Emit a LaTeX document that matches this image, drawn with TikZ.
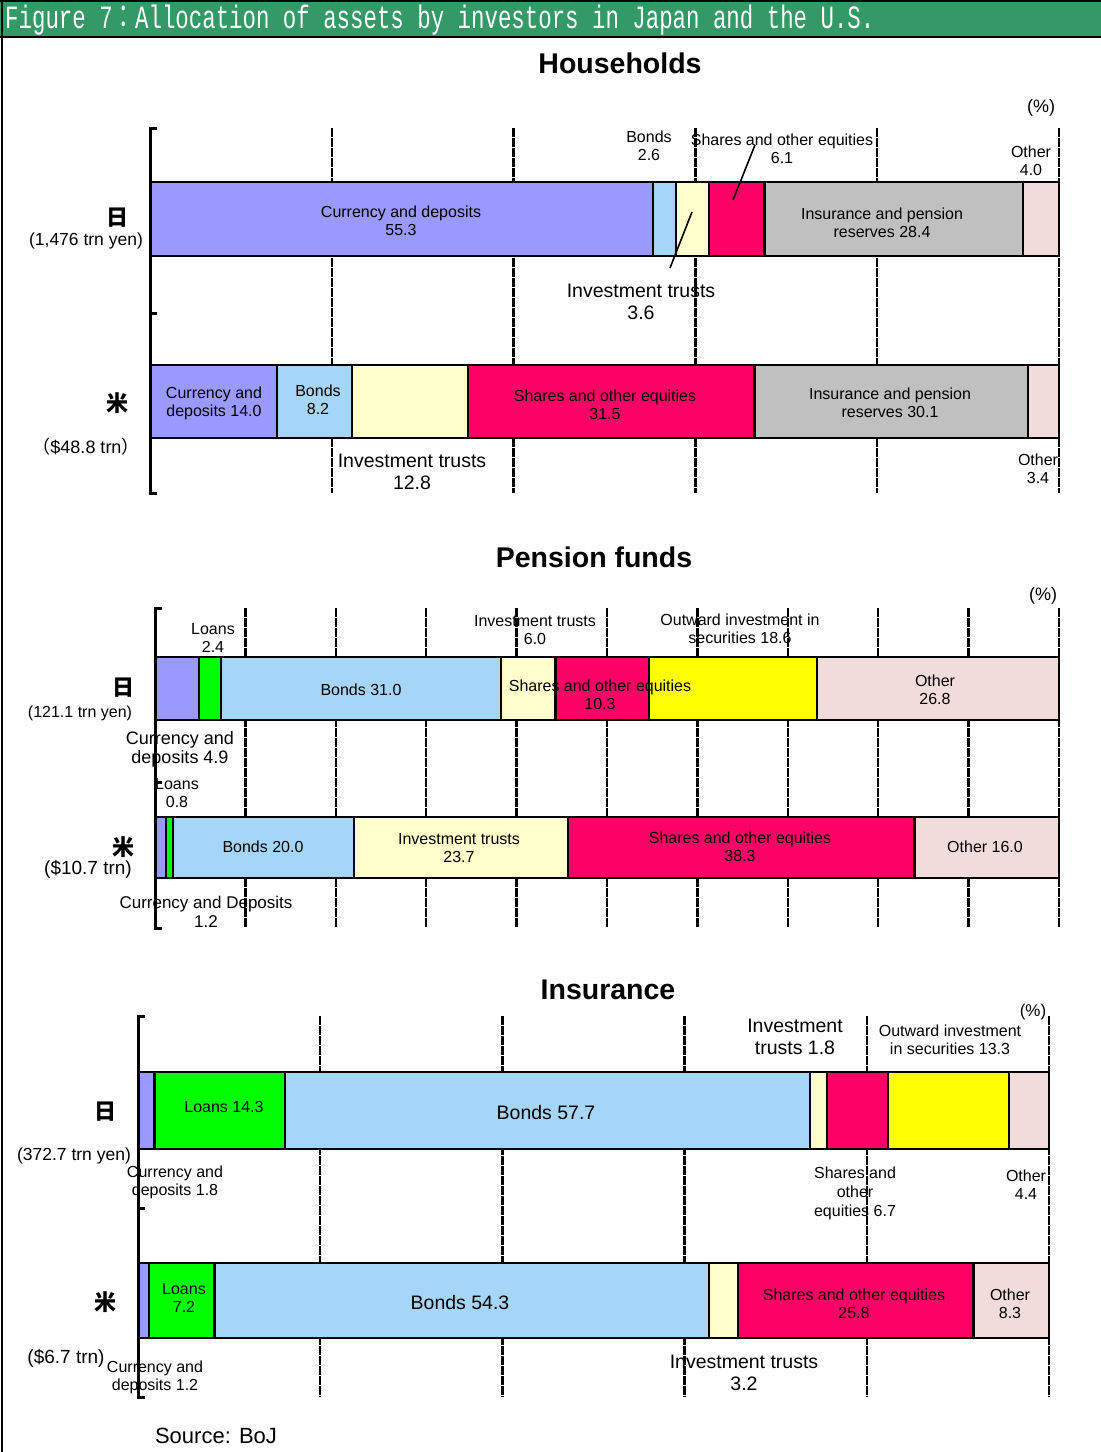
\documentclass[tikz,border=0pt]{standalone}
\usepackage{fontspec}
\setmainfont{Liberation Sans}
\newfontfamily\cjk{Noto Sans CJK JP}
\newfontfamily\hdfont{Liberation Mono}

\definecolor{cur}{RGB}{153,153,255}
\definecolor{bnd}{RGB}{166,214,247}
\definecolor{inv}{RGB}{255,255,204}
\definecolor{shr}{RGB}{255,0,102}
\definecolor{ins}{RGB}{192,192,192}
\definecolor{oth}{RGB}{242,220,219}
\definecolor{lon}{RGB}{0,255,0}
\definecolor{otw}{RGB}{255,255,0}
\definecolor{hdr}{RGB}{51,153,102}

\tikzset{
  gridline/.style={line width=2.5pt, dash pattern=on 9pt off 1pt},
  bar/.style={draw, line width=2.2pt},
  axisline/.style={line width=3pt},
  lab/.style={align=center, inner sep=0pt, font=\fontsize{16}{18}\selectfont},
  biglab/.style={align=center, inner sep=0pt, font=\fontsize{19.5}{22}\selectfont},
  country/.style={inner sep=0pt, font=\cjk\bfseries\fontsize{22}{22}\selectfont},
  paneltitle/.style={inner sep=0pt, font=\fontsize{28.5}{32}\selectfont\bfseries},
}

\begin{document}
\begin{tikzpicture}[x=1pt, y=-1pt]
    \useasboundingbox (0,0) rectangle (1101,1452);

    % header
    \fill[hdr] (0,1) rectangle (1101,37);
    \draw[line width=2pt] (0,1) -- (1101,1);
    \draw[line width=2pt] (0,37) -- (1101,37);
    \draw[line width=2pt] (2,0) -- (2,1452);
    \node[anchor=west, inner sep=0pt, text=white, font=\hdfont\fontsize{22.4}{22}\selectfont] (head) at (5,20)
        {\scalebox{1}[1.45]{Figure 7{\cjk ：}Allocation of assets by investors in Japan and the U.S.}};

    % ---------------- Households ----------------
    \node[paneltitle] (hhtitle) at (620,63) {Households};
    \node[lab, font=\fontsize{18}{20}\selectfont] (hhpct) at (1041,108) {(\%)};

        \foreach \gx in {331.8, 513.6, 695.4, 877.2, 1059}
            \draw[gridline] (\gx,128) -- (\gx,493);

        \draw[bar, fill=cur] (150,182) rectangle (652.7,256);
        \draw[bar, fill=bnd] (652.7,182) rectangle (676.3,256);
        \draw[bar, fill=inv] (676.3,182) rectangle (709.0,256);
        \draw[bar, fill=shr] (709.0,182) rectangle (764.5,256);
        \draw[bar, fill=ins] (764.5,182) rectangle (1022.6,256);
        \draw[bar, fill=oth] (1022.6,182) rectangle (1059,256);

        \draw[bar, fill=cur] (150,365) rectangle (277.3,438);
        \draw[bar, fill=bnd] (277.3,365) rectangle (351.8,438);
        \draw[bar, fill=inv] (351.8,365) rectangle (468.2,438);
        \draw[bar, fill=shr] (468.2,365) rectangle (754.5,438);
        \draw[bar, fill=ins] (754.5,365) rectangle (1028.1,438);
        \draw[bar, fill=oth] (1028.1,365) rectangle (1059,438);

    \draw[axisline] (157,128) -- (150,128) -- (150,493) -- (157,493);
    \draw[axisline] (150,313) -- (157,313);

    \node[country] (hhjp) at (117,218) {日};
    \node[lab, font=\fontsize{17.5}{18}\selectfont] (hhjptot) at (86,241) {(1,476 trn yen)};
    \node[lab] (hhjpcur) at (401,221) {Currency and deposits\\55.3};
    \node[lab] (hhjpbnd) at (649,146) {Bonds\\2.6};
    \node[lab] (hhjpshr) at (782,149) {Shares and other equities\\6.1};
    \node[biglab] (hhjpinv) at (641,302) {Investment trusts\\3.6};
    \node[lab] (hhjpins) at (882,223) {Insurance and pension\\reserves 28.4};
    \node[lab] (hhjpoth) at (1031,161) {Other\\4.0};

        \coordinate (shrtop) at (755,145);
        \coordinate (shrbar) at (733,200);
        \coordinate (invbar) at (692,212);
        \coordinate (invlow) at (670,268);
        \draw[line width=1.6pt] (shrtop) -- (shrbar);
        \draw[line width=1.6pt] (invbar) -- (invlow);

    \node[country] (hhus) at (117,403) {米};
    \node[lab, font=\fontsize{18}{18}\selectfont] (hhustot) at (86,447) {{\cjk （}\$48.8 trn{\cjk ）}};
    \node[lab] (hhuscur) at (214,403) {Currency and\\deposits 14.0};
    \node[lab] (hhusbnd) at (318,400) {Bonds\\8.2};
    \node[biglab] (hhusinv) at (412,472) {Investment trusts\\12.8};
    \node[lab] (hhusshr) at (605,405) {Shares and other equities\\31.5};
    \node[lab] (hhusins) at (890,403) {Insurance and pension\\reserves 30.1};
    \node[lab] (hhusoth) at (1038,469) {Other\\3.4};

    % ---------------- Pension funds ----------------
    \node[paneltitle] (pftitle) at (594,557) {Pension funds};
    \node[lab, font=\fontsize{18}{20}\selectfont] (pfpct) at (1043,596) {(\%)};

        \foreach \gx in {245.4, 335.8, 426.2, 516.6, 607, 697.4, 787.8, 878.2, 968.6, 1059}
            \draw[gridline] (\gx,608) -- (\gx,928);

        \draw[bar, fill=cur] (155,657) rectangle (199.3,720);
        \draw[bar, fill=lon] (199.3,657) rectangle (221.0,720);
        \draw[bar, fill=bnd] (221.0,657) rectangle (501.2,720);
        \draw[bar, fill=inv] (501.2,657) rectangle (555.5,720);
        \draw[bar, fill=shr] (555.5,657) rectangle (648.6,720);
        \draw[bar, fill=otw] (648.6,657) rectangle (816.7,720);
        \draw[bar, fill=oth] (816.7,657) rectangle (1059,720);

        \draw[bar, fill=cur] (155,817) rectangle (165.8,878);
        \draw[bar, fill=lon] (165.8,817) rectangle (173.1,878);
        \draw[bar, fill=bnd] (173.1,817) rectangle (353.9,878);
        \draw[bar, fill=inv] (353.9,817) rectangle (568.1,878);
        \draw[bar, fill=shr] (568.1,817) rectangle (914.4,878);
        \draw[bar, fill=oth] (914.4,817) rectangle (1059,878);

    \draw[axisline] (162,608) -- (155,608) -- (155,928) -- (162,928);
    \draw[axisline] (155,782) -- (162,782);

    \node[country] (pfjp) at (123,688) {日};
    \node[lab] (pfjptot) at (80,713) {(121.1 trn yen)};
    \node[lab] (pfjplon) at (213,638) {Loans\\2.4};
    \node[lab] (pfjpbnd) at (361,690) {Bonds 31.0};
    \node[lab] (pfjpinv) at (535,630) {Investment trusts\\6.0};
    \node[lab] (pfjpshr) at (600,695) {Shares and other equities\\10.3};
    \node[lab] (pfjpotw) at (740,629) {Outward investment in\\securities 18.6};
    \node[lab] (pfjpoth) at (935,690) {Other\\26.8};
    \node[lab, font=\fontsize{18}{19}\selectfont] (pfjpcur) at (180,749) {Currency and\\deposits 4.9};

    \node[lab] (pfuslon) at (177,793) {Loans\\0.8};
    \node[country] (pfus) at (123,847) {米};
    \node[lab, font=\fontsize{19}{20}\selectfont] (pfustot) at (88,869) {(\$10.7 trn)};
    \node[lab] (pfusbnd) at (263,847) {Bonds 20.0};
    \node[lab] (pfusinv) at (459,848) {Investment trusts\\23.7};
    \node[lab] (pfusshr) at (740,847) {Shares and other equities\\38.3};
    \node[lab] (pfusoth) at (985,847) {Other 16.0};
    \node[lab, font=\fontsize{17}{19}\selectfont] (pfuscur) at (206,912) {Currency and Deposits\\1.2};

    % ---------------- Insurance ----------------
    \node[paneltitle] (intitle) at (608,990) {Insurance};
    \node[lab, font=\fontsize{17}{20}\selectfont] (inpct) at (1033,1012) {(\%)};

        \foreach \gx in {320.2, 502.4, 684.6, 866.8, 1049}
            \draw[gridline] (\gx,1016) -- (\gx,1397);

        \draw[bar, fill=cur] (138,1072) rectangle (154.4,1149);
        \draw[bar, fill=lon] (154.4,1072) rectangle (284.7,1149);
        \draw[bar, fill=bnd] (284.7,1072) rectangle (810.3,1149);
        \draw[bar, fill=inv] (810.3,1072) rectangle (826.7,1149);
        \draw[bar, fill=shr] (826.7,1072) rectangle (887.8,1149);
        \draw[bar, fill=otw] (887.8,1072) rectangle (1008.9,1149);
        \draw[bar, fill=oth] (1008.9,1072) rectangle (1049,1149);

        \draw[bar, fill=cur] (138,1263) rectangle (148.9,1338);
        \draw[bar, fill=lon] (148.9,1263) rectangle (214.5,1338);
        \draw[bar, fill=bnd] (214.5,1263) rectangle (709.2,1338);
        \draw[bar, fill=inv] (709.2,1263) rectangle (738.3,1338);
        \draw[bar, fill=shr] (738.3,1263) rectangle (973.4,1338);
        \draw[bar, fill=oth] (973.4,1263) rectangle (1049,1338);

    \draw[axisline] (145,1016) -- (138,1016) -- (138,1397) -- (145,1397);
    \draw[axisline] (138,1208) -- (145,1208);

    \node[country] (injp) at (105,1112) {日};
    \node[lab, font=\fontsize{17.5}{19}\selectfont] (injptot) at (74,1156) {(372.7 trn yen)};
    \node[lab] (injplon) at (224,1107) {Loans 14.3};
    \node[biglab] (injpbnd) at (546,1113) {Bonds 57.7};
    \node[biglab] (injpinv) at (795,1037) {Investment\\trusts 1.8};
    \node[lab] (injpotw) at (950,1040) {Outward investment\\in securities 13.3};
    \node[lab, font=\fontsize{16}{19}\selectfont] (injpshr) at (855,1193) {Shares and\\other\\equities 6.7};
    \node[lab] (injpoth) at (1026,1185) {Other\\4.4};
    \node[lab] (injpcur) at (175,1182) {Currency and\\deposits 1.8};

    \node[country] (inus) at (105,1302) {米};
    \node[lab, font=\fontsize{19}{20}\selectfont] (inustot) at (66,1358) {(\$6.7 trn)};
    \node[lab] (inuslon) at (184,1298) {Loans\\7.2};
    \node[biglab] (inusbnd) at (460,1303) {Bonds 54.3};
    \node[lab] (inusshr) at (854,1304) {Shares and other equities\\25.8};
    \node[lab] (inusoth) at (1010,1304) {Other\\8.3};
    \node[lab] (inuscur) at (155,1377) {Currency and\\deposits 1.2};
    \node[biglab] (inusinv) at (744,1373) {Investment trusts\\3.2};

    \node[inner sep=0pt, font=\fontsize{22}{24}\selectfont] (source) at (216,1436) {Source: BoJ};

\end{tikzpicture}
\end{document}
